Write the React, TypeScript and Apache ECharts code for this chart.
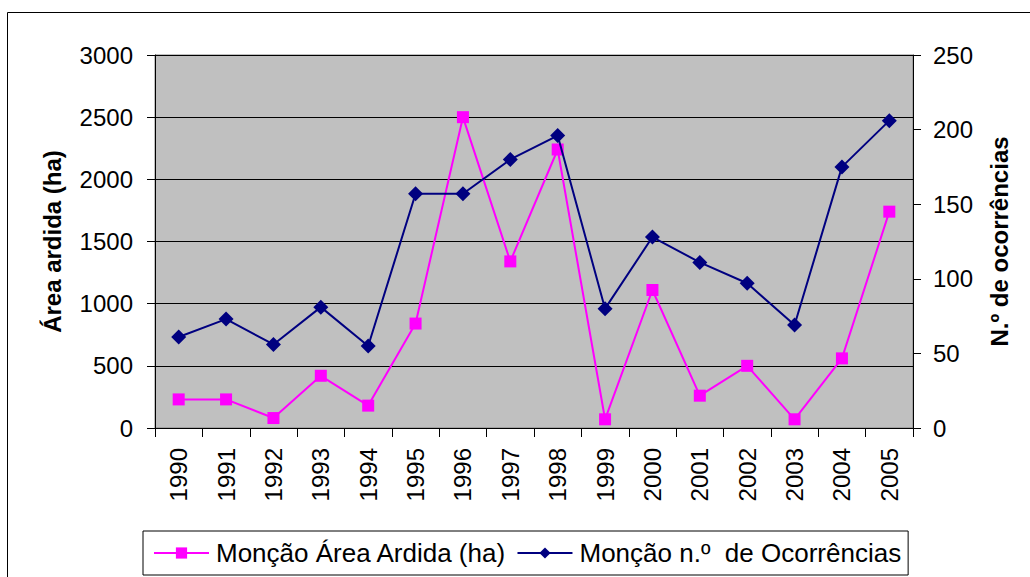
import React, { useEffect, useRef } from "react";
import * as echarts from "echarts";

const years = ["1990","1991","1992","1993","1994","1995","1996","1997","1998","1999","2000","2001","2002","2003","2004","2005"];
const areaArdida = [230, 230, 80, 420, 180, 840, 2500, 1340, 2240, 70, 1110, 260, 500, 70, 560, 1740];
const ocorrencias = [61, 73, 56, 81, 55, 157, 157, 180, 196, 80, 128, 111, 97, 69, 175, 206];
const seriesNames = ["Monção Área Ardida (ha)", "Monção n.º  de Ocorrências"];
const axisNames = ["Área ardida (ha)", "N.º de ocorrências"];

const FONT = "'Liberation Sans', Arial, sans-serif";

export default function App() {
  const ref = useRef<HTMLDivElement>(null);
  useEffect(() => {
    if (!ref.current) return;
    const chart = echarts.init(ref.current, undefined, { renderer: "svg" });
    chart.setOption({
      animation: false,
      backgroundColor: "#ffffff",
      textStyle: { fontFamily: FONT, color: "#000" },
      graphic: [
        {
          type: "rect",
          shape: { x: 7.5, y: 12.5, width: 1100, height: 700 },
          style: { fill: "none", stroke: "#000", lineWidth: 1 },
          silent: true,
          z: -10,
        },
      ],
      grid: {
        left: 155,
        right: 117,
        top: 55,
        bottom: 149,
        show: true,
        backgroundColor: "#c0c0c0",
        borderColor: "#808080",
        borderWidth: 1,
      },
      legend: {
        left: 143,
        top: 531,
        orient: "horizontal",
        padding: [8, 7, 8, 10],
        itemGap: 10,
        itemWidth: 55,
        itemHeight: 14,
        borderColor: "#000",
        borderWidth: 1,
        backgroundColor: "#fff",
        textStyle: { fontFamily: FONT, fontSize: 26, color: "#000", lineHeight: 28, padding: [0, 0, 0, 2] },
        data: seriesNames,
      },
      xAxis: {
        type: "category",
        data: years,
        boundaryGap: true,
        axisLine: { lineStyle: { color: "#000", width: 1 } },
        axisTick: { show: true, length: 9, lineStyle: { color: "#000" } },
        axisLabel: { rotate: 90, fontSize: 24, color: "#000", fontFamily: FONT, margin: 20, interval: 0 },
        splitLine: { show: false },
      },
      yAxis: [
        {
          type: "value",
          min: 0,
          max: 3000,
          interval: 500,
          position: "left",
          name: axisNames[0],
          nameLocation: "middle",
          nameRotate: 90,
          nameGap: 91,
          nameTextStyle: { fontSize: 24, fontWeight: "bold", color: "#000", fontFamily: FONT },
          axisLine: { show: true, lineStyle: { color: "#000", width: 1 } },
          axisTick: { show: true, length: 8, lineStyle: { color: "#000" } },
          axisLabel: { fontSize: 24, color: "#000", fontFamily: FONT, margin: 22, formatter: (v: number) => String(v) },
          splitLine: { show: true, lineStyle: { color: "#000", width: 1 } },
        },
        {
          type: "value",
          min: 0,
          max: 250,
          interval: 50,
          position: "right",
          name: axisNames[1],
          nameLocation: "middle",
          nameRotate: 90,
          nameGap: 74,
          nameTextStyle: { fontSize: 24, fontWeight: "bold", color: "#000", fontFamily: FONT },
          axisLine: { show: true, lineStyle: { color: "#000", width: 1 } },
          axisTick: { show: true, length: 8, lineStyle: { color: "#000" } },
          axisLabel: { fontSize: 24, color: "#000", fontFamily: FONT, margin: 20, formatter: (v: number) => String(v) },
          splitLine: { show: false },
        },
      ],
      series: [
        {
          name: seriesNames[0],
          type: "line",
          yAxisIndex: 0,
          data: areaArdida,
          symbol: "rect",
          symbolSize: 12,
          itemStyle: { color: "#ff00ff" },
          lineStyle: { color: "#ff00ff", width: 2 },
          z: 2,
        },
        {
          name: seriesNames[1],
          type: "line",
          yAxisIndex: 1,
          data: ocorrencias,
          symbol: "diamond",
          symbolSize: 15,
          itemStyle: { color: "#000080" },
          lineStyle: { color: "#000080", width: 2 },
          z: 3,
        },
      ],
    });
    return () => chart.dispose();
  }, []);
  return (
    <div
      ref={ref}
      style={{ position: "fixed", left: 0, top: 0, width: 1030, height: 577, background: "#fff" }}
    />
  );
}
